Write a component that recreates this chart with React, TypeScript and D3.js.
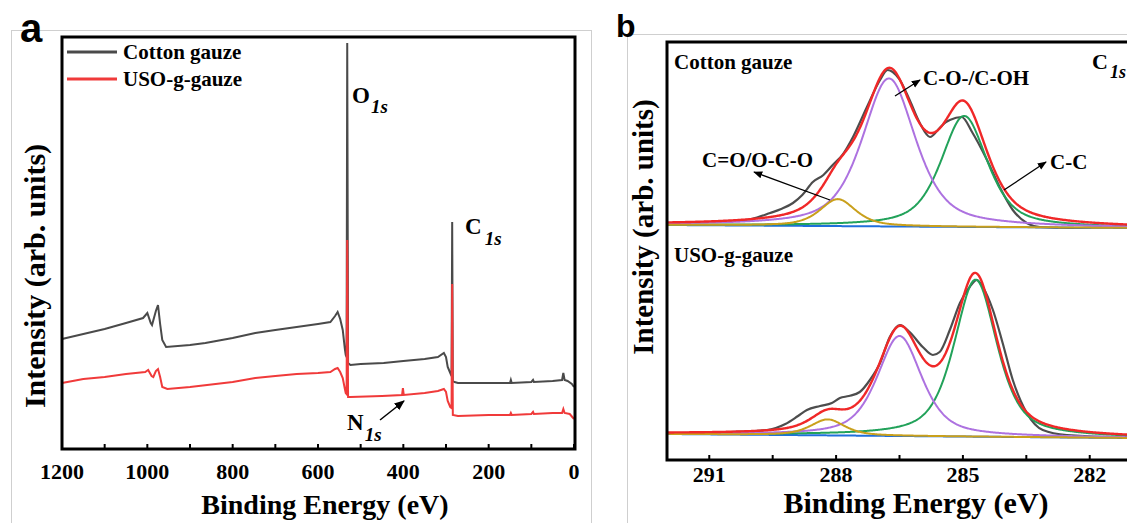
import React from 'react';
import * as d3 from 'd3';

// ---- panel a: survey spectra (binding energy eV, intensity a.u.)
const cottonSurvey: [number, number][] = [
  [1200, 110], [1150, 115], [1100, 120], [1050, 126], [1010, 131], [1000, 136], [992, 126], [989, 124],
  [980, 138], [975, 144], [970, 125], [965, 109], [956, 102], [900, 104], [864, 106], [800, 111],
  [747, 116], [700, 119], [650, 122], [600, 125], [571, 127], [560, 133], [554, 137], [548, 130],
  [542, 119], [537, 100], [535, 94], [533, 92], [531.5, 406], [529.5, 86], [524, 84], [500, 85],
  [446, 86], [400, 88], [350, 90], [319, 92], [305, 96], [300, 92], [296, 82], [290, 76], [287, 73],
  [285.5, 227], [284, 68], [280, 67], [272, 66], [200, 66], [150, 66], [148, 69], [146, 66], [100, 67],
  [96, 69], [94, 67], [50, 68], [28, 69], [25, 76], [22, 69], [15, 68], [5, 65], [0, 62],
];
const usoSurvey: [number, number][] = [
  [1200, 66], [1150, 70], [1100, 72], [1050, 75], [1005, 77], [998, 79], [990, 73], [986, 72],
  [980, 78], [975, 80], [970, 72], [965, 62], [953, 60], [900, 62], [800, 67], [747, 71], [700, 73],
  [650, 75], [600, 76], [571, 77], [560, 80], [554, 81], [548, 77], [542, 71], [537, 60], [535, 56],
  [533, 55], [531.5, 209], [529.5, 52], [524, 52], [450, 53], [403, 54], [401, 61], [399, 54],
  [350, 56], [319, 58], [305, 60], [300, 57], [296, 48], [290, 42], [287, 41], [285.5, 165],
  [284, 34], [272, 33], [200, 34], [150, 34], [148, 36], [146, 34], [100, 35], [96, 37], [94, 35],
  [50, 36], [28, 36], [25, 40], [22, 36], [10, 35], [0, 30],
];
const surveyTicks = [1200, 1000, 800, 600, 400, 200, 0];

// ---- panel b: C1s high resolution
const cottonC1s: [number, number][] = [
  [292.0, 237], [291.0, 238], [290.44, 239], [290.0, 241], [289.56, 247], [289.3, 251], [289.02, 257],
  [288.8, 265], [288.55, 278], [288.3, 285], [288.08, 295], [287.85, 305], [287.6, 323], [287.27, 353],
  [286.96, 380], [286.78, 390], [286.66, 388], [286.49, 380], [286.26, 360], [286.02, 337], [285.78, 323],
  [285.55, 332], [285.4, 338], [285.31, 340], [285.03, 343], [284.77, 327], [284.43, 300], [284.13, 273],
  [283.82, 250], [283.49, 237], [283.18, 233], [282.5, 232], [281.29, 233], [281, 233],
];
const usoC1s: [number, number][] = [
  [292.0, 27], [290.5, 28], [289.64, 30], [289.2, 36], [288.9, 44], [288.69, 50], [288.38, 54],
  [288.1, 57], [287.91, 62], [287.7, 64], [287.44, 68], [287.2, 80], [286.96, 97], [286.73, 123],
  [286.49, 135], [286.26, 128], [285.95, 113], [285.71, 105], [285.55, 108], [285.31, 130],
  [285.07, 157], [284.84, 173], [284.67, 180], [284.53, 173], [284.29, 150], [284.06, 117],
  [283.82, 80], [283.49, 47], [283.11, 30], [282.54, 25], [281.29, 23], [281, 23],
];
// fitted components: C=O/O-C-O, C-O/C-OH, C-C
const peakNames = ['C=O/O-C-O', 'C-O-/C-OH', 'C-C'];
const peakColors = ['#c9a01c', '#ad72e0', '#22a25a'];
const cottonCenters = [287.96, 286.75, 284.97];
const cottonHeights = [27, 148, 111];
const cottonFwhm = [1.0, 1.5, 1.3];
const cottonBaseline = [235, 232]; // at 292 eV and 281 eV
const usoCenters = [288.2, 286.5, 284.7];
const usoHeights = [16, 100, 157];
const usoFwhm = [0.95, 1.25, 1.2];
const usoBaseline = [26, 22];
const c1sTicks = [291, 289.5, 288, 286.5, 285, 283.5, 282];
const c1sLabels = [291, 288, 285, 282];

const eta = 0.6;

function pv(x: number, c: number, h: number, w: number) {
  const t = (x - c) / w;
  return h * (eta / (1 + 4 * t * t) + (1 - eta) * Math.exp(-4 * Math.LN2 * t * t));
}

export default function App() {
  // panel a scales
  const ax = d3.scaleLinear().domain([1200, 0]).range([62, 574]);
  const ay = d3.scaleLinear().domain([0, 412]).range([449, 37]);
  const aLine = d3.line<[number, number]>().x(d => ax(d[0])).y(d => ay(d[1]));

  // panel b scales
  const bx = d3.scaleLinear().domain([292, 281]).range([667, 1132]);
  const by = d3.scaleLinear().domain([0, 418]).range([460, 42]);
  const rawGen = d3.line<[number, number]>().x(d => bx(d[0])).y(d => by(d[1])).curve(d3.curveMonotoneX);
  const smooth = d3.line<[number, number]>().x(d => bx(d[0])).y(d => by(d[1]));

  const grid = d3.range(292, 280.99, -0.02);
  const fits = (centers: number[], heights: number[], fw: number[], base: number[]) => {
    const bl = d3.scaleLinear().domain([292, 281]).range(base);
    const comps = centers.map((c, i) => grid.map(e => [e, bl(e) + pv(e, c, heights[i], fw[i])] as [number, number]));
    const env = grid.map(e => [e, bl(e) + d3.sum(centers, (c, i) => pv(e, c, heights[i], fw[i]))] as [number, number]);
    const baseLine = grid.map(e => [e, bl(e)] as [number, number]);
    return { comps, env, baseLine };
  };
  const top = fits(cottonCenters, cottonHeights, cottonFwhm, cottonBaseline);
  const bot = fits(usoCenters, usoHeights, usoFwhm, usoBaseline);

  const renderFit = (f: ReturnType<typeof fits>, raw: [number, number][], key: string) => (
    <g key={key}>
      <path d={rawGen(raw) || ''} fill="none" stroke="#4d4d4d" strokeWidth={2.2} />
      <path d={smooth(f.baseLine) || ''} fill="none" stroke="#1f6fdc" strokeWidth={2} />
      <path d={smooth(f.comps[2]) || ''} fill="none" stroke={peakColors[2]} strokeWidth={2} />
      <path d={smooth(f.comps[1]) || ''} fill="none" stroke={peakColors[1]} strokeWidth={2} />
      <path d={smooth(f.comps[0]) || ''} fill="none" stroke={peakColors[0]} strokeWidth={2} />
      <path d={smooth(f.env) || ''} fill="none" stroke="#f02828" strokeWidth={2.4} />
    </g>
  );

  const bold = { fontFamily: 'Liberation Serif', fontWeight: 700 as const };
  const letter = { fontFamily: 'Liberation Sans', fontWeight: 700 as const };

  return (
    <svg width={1127} height={523} style={{ position: 'absolute', left: 0, top: 0, background: '#fff' }}>
      <defs>
        <marker id="arr" viewBox="0 0 10 10" refX="9" refY="5" markerWidth="7" markerHeight="7" orient="auto-start-reverse">
          <path d="M0,1 L10,5 L0,9 z" fill="#000" />
        </marker>
        <clipPath id="clipb"><rect x={667} y={42} width={470} height={418} /></clipPath>
      </defs>

      {/* ---------- panel a ---------- */}
      <rect x={11.5} y={30.5} width={580} height={500} fill="none" stroke="#cfcfcf" />
      <text x={20} y={42} fontSize={40} {...letter}>a</text>
      <path d={aLine(cottonSurvey) || ''} fill="none" stroke="#4a4a4a" strokeWidth={2} />
      <path d={aLine(usoSurvey) || ''} fill="none" stroke="#f03a3a" strokeWidth={2} />
      <rect x={62} y={37} width={513} height={412} fill="none" stroke="#000" strokeWidth={3} />
      {d3.range(0, 1201, 100).map(t => (
        <line key={t} x1={ax(t)} x2={ax(t)} y1={449} y2={444} stroke="#000" strokeWidth={2} />
      ))}
      {surveyTicks.map(t => (
        <text key={t} x={ax(t)} y={479} textAnchor="middle" fontSize={22} {...bold}>{t}</text>
      ))}
      <text x={325} y={514} textAnchor="middle" fontSize={28} {...bold}>Binding Energy (eV)</text>
      <text transform="translate(45,276) rotate(-90)" textAnchor="middle" fontSize={30} {...bold}>Intensity (arb. units)</text>
      <line x1={67} x2={117} y1={52} y2={52} stroke="#4a4a4a" strokeWidth={3} />
      <text x={123} y={59} fontSize={21} {...bold}>Cotton gauze</text>
      <line x1={67} x2={117} y1={79} y2={79} stroke="#f03a3a" strokeWidth={3} />
      <text x={123} y={86} fontSize={21} {...bold}>USO-g-gauze</text>
      <text x={352} y={103} fontSize={23} {...bold}>O<tspan dx={1} dy={10} fontSize={19} fontStyle="italic">1s</tspan></text>
      <text x={465} y={234} fontSize={23} {...bold}>C<tspan dx={3} dy={11} fontSize={19} fontStyle="italic">1s</tspan></text>
      <text x={347} y={430} fontSize={23} {...bold}>N<tspan dx={1} dy={11} fontSize={19} fontStyle="italic">1s</tspan></text>
      <line x1={380} y1={420} x2={404} y2={401} stroke="#000" strokeWidth={1.5} markerEnd="url(#arr)" />

      {/* ---------- panel b ---------- */}
      <rect x={627.5} y={34.5} width={520} height={500} fill="none" stroke="#cfcfcf" />
      <text x={616} y={37} fontSize={32} {...letter}>b</text>
      <g clipPath="url(#clipb)">
        {renderFit(top, cottonC1s, 'top')}
        {renderFit(bot, usoC1s, 'bot')}
      </g>
      <rect x={667} y={42} width={480} height={418} fill="none" stroke="#000" strokeWidth={3} />
      {c1sTicks.map(t => (
        <line key={t} x1={bx(t)} x2={bx(t)} y1={460} y2={455} stroke="#000" strokeWidth={2} />
      ))}
      {c1sLabels.map(t => (
        <text key={t} x={bx(t)} y={482} textAnchor="middle" fontSize={22} {...bold}>{t}</text>
      ))}
      <text x={916} y={513} textAnchor="middle" fontSize={30} {...bold}>Binding Energy (eV)</text>
      <text transform="translate(653,227) rotate(-90)" textAnchor="middle" fontSize={29} {...bold}>Intensity (arb. units)</text>
      <text x={674} y={69} fontSize={21} {...bold}>Cotton gauze</text>
      <text x={674} y={262} fontSize={21} {...bold}>USO-g-gauze</text>
      <text x={1092} y={69} fontSize={22} {...bold}>C<tspan dx={2} dy={9} fontSize={18} fontStyle="italic">1s</tspan></text>
      <text x={923} y={85} fontSize={21} {...bold}>{peakNames[1]}</text>
      <line x1={895} y1={96} x2={920} y2={80} stroke="#000" strokeWidth={1.3} markerEnd="url(#arr)" />
      <text x={702} y={167} fontSize={21} {...bold}>{peakNames[0]}</text>
      <line x1={830} y1={200} x2={754} y2={172} stroke="#000" strokeWidth={1.3} markerEnd="url(#arr)" />
      <text x={1050} y={169} fontSize={21} {...bold}>{peakNames[2]}</text>
      <line x1={1004} y1={190} x2={1046} y2={162} stroke="#000" strokeWidth={1.3} markerEnd="url(#arr)" />
    </svg>
  );
}
